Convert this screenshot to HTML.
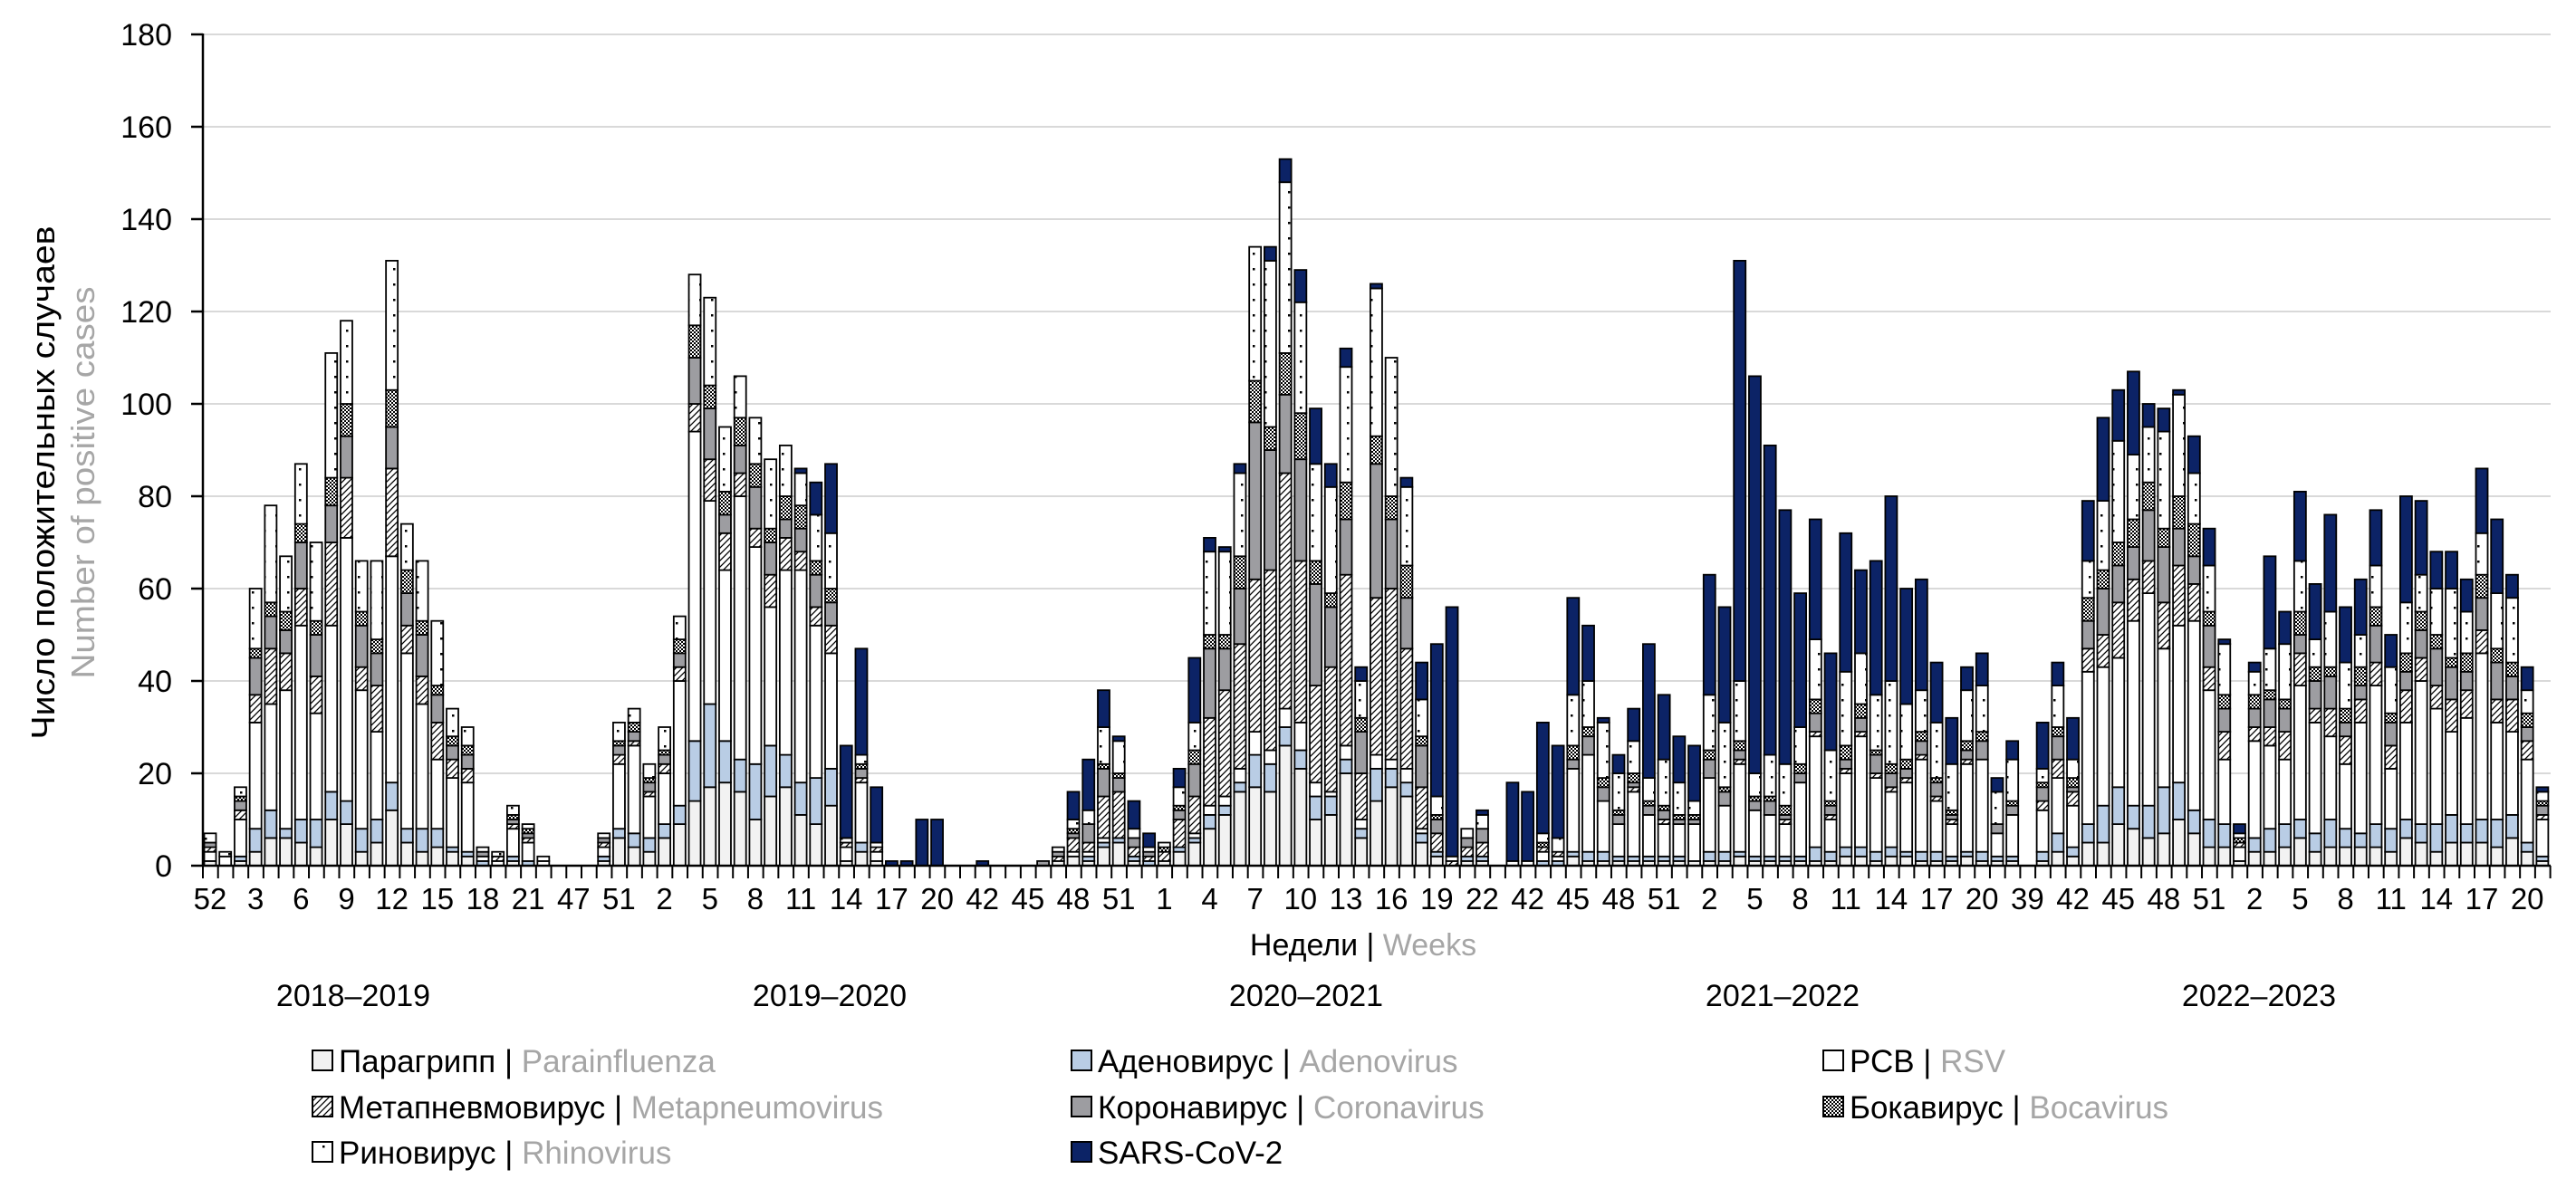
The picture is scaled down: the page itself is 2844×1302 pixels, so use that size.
<!DOCTYPE html>
<html><head><meta charset="utf-8">
<style>
html,body{margin:0;padding:0;background:#fff;}
svg{display:block;}
text{font-family:"Liberation Sans",Arial,sans-serif;}
</style></head>
<body>
<svg id="c" width="2844" height="1302" viewBox="0 0 2844 1302" xmlns="http://www.w3.org/2000/svg">
<defs>
<pattern id="hatch" width="7" height="7" patternUnits="userSpaceOnUse">
<rect width="7" height="7" fill="#fff"/>
<path d="M-1,8 L8,-1 M-2,2 L2,-2 M5,9 L9,5" stroke="#000" stroke-width="1.3"/>
</pattern>
<pattern id="check" width="4" height="4" patternUnits="userSpaceOnUse">
<rect width="4" height="4" fill="#fff"/>
<rect width="2" height="2" fill="#000"/><rect x="2" y="2" width="2" height="2" fill="#000"/>
</pattern>
<pattern id="dots" width="13" height="17" patternUnits="userSpaceOnUse">
<rect width="13" height="17" fill="#fff"/>
<rect x="5" y="7" width="2.5" height="2.5" fill="#000"/>
</pattern>
</defs>
<g id="grid" stroke="#d9d9d9" stroke-width="2">
<line x1="224" y1="854" x2="2816" y2="854"/><line x1="224" y1="752" x2="2816" y2="752"/>
<line x1="224" y1="650" x2="2816" y2="650"/><line x1="224" y1="548" x2="2816" y2="548"/>
<line x1="224" y1="446" x2="2816" y2="446"/><line x1="224" y1="344" x2="2816" y2="344"/>
<line x1="224" y1="242" x2="2816" y2="242"/><line x1="224" y1="140" x2="2816" y2="140"/>
<line x1="224" y1="38" x2="2816" y2="38"/>
</g>
<g id="bars"></g>
<g stroke="#000" stroke-width="2.5">
<line x1="224" y1="37" x2="224" y2="957"/>
<line x1="223" y1="956" x2="2816" y2="956"/>
<line x1="211" y1="956" x2="224" y2="956"/><line x1="211" y1="854" x2="224" y2="854"/>
<line x1="211" y1="752" x2="224" y2="752"/><line x1="211" y1="650" x2="224" y2="650"/>
<line x1="211" y1="548" x2="224" y2="548"/><line x1="211" y1="446" x2="224" y2="446"/>
<line x1="211" y1="344" x2="224" y2="344"/><line x1="211" y1="242" x2="224" y2="242"/>
<line x1="211" y1="140" x2="224" y2="140"/><line x1="211" y1="38" x2="224" y2="38"/>
</g>
<g id="xt" stroke="#000" stroke-width="2"></g>
<g font-size="34" text-anchor="end" fill="#000">
<text x="190" y="968">0</text><text x="190" y="866">20</text><text x="190" y="764">40</text>
<text x="190" y="662">60</text><text x="190" y="560">80</text><text x="190" y="458">100</text>
<text x="190" y="356">120</text><text x="190" y="254">140</text><text x="190" y="152">160</text>
<text x="190" y="50">180</text>
</g>
<g font-size="33" text-anchor="middle" fill="#000">
<text x="232" y="1004">52</text><text x="282.2" y="1004">3</text><text x="332.3" y="1004">6</text><text x="382.5" y="1004">9</text>
<text x="432.6" y="1004">12</text><text x="482.8" y="1004">15</text><text x="533" y="1004">18</text><text x="583.1" y="1004">21</text>
<text x="633.3" y="1004">47</text><text x="683.4" y="1004">51</text><text x="733.6" y="1004">2</text><text x="783.8" y="1004">5</text>
<text x="833.9" y="1004">8</text><text x="884.1" y="1004">11</text><text x="934.2" y="1004">14</text><text x="984.4" y="1004">17</text>
<text x="1034.6" y="1004">20</text><text x="1084.7" y="1004">42</text><text x="1134.9" y="1004">45</text><text x="1185" y="1004">48</text>
<text x="1235.2" y="1004">51</text><text x="1285.4" y="1004">1</text><text x="1335.5" y="1004">4</text><text x="1385.7" y="1004">7</text>
<text x="1435.8" y="1004">10</text><text x="1486" y="1004">13</text><text x="1536.2" y="1004">16</text><text x="1586.3" y="1004">19</text>
<text x="1636.5" y="1004">22</text><text x="1686.6" y="1004">42</text><text x="1736.8" y="1004">45</text><text x="1787" y="1004">48</text>
<text x="1837.1" y="1004">51</text><text x="1887.3" y="1004">2</text><text x="1937.4" y="1004">5</text><text x="1987.6" y="1004">8</text>
<text x="2037.8" y="1004">11</text><text x="2087.9" y="1004">14</text><text x="2138.1" y="1004">17</text><text x="2188.2" y="1004">20</text>
<text x="2238.4" y="1004">39</text><text x="2288.6" y="1004">42</text><text x="2338.7" y="1004">45</text><text x="2388.9" y="1004">48</text>
<text x="2439" y="1004">51</text><text x="2489.2" y="1004">2</text><text x="2539.4" y="1004">5</text><text x="2589.5" y="1004">8</text>
<text x="2639.7" y="1004">11</text><text x="2689.8" y="1004">14</text><text x="2740" y="1004">17</text><text x="2790.2" y="1004">20</text>
</g>
<text x="1505" y="1055" font-size="34" text-anchor="middle" fill="#000">Недели | <tspan fill="#a6a6a6">Weeks</tspan></text>
<g font-size="34" text-anchor="middle" fill="#000">
<text x="390" y="1111">2018–2019</text><text x="916" y="1111">2019–2020</text>
<text x="1442" y="1111">2020–2021</text><text x="1968" y="1111">2021–2022</text>
<text x="2494" y="1111">2022–2023</text>
</g>
<text transform="translate(60,533) rotate(-90)" font-size="36" text-anchor="middle" fill="#000" textLength="567" lengthAdjust="spacingAndGlyphs">Число положительных случаев</text>
<text transform="translate(104,533) rotate(-90)" font-size="36" text-anchor="middle" fill="#a6a6a6" textLength="433" lengthAdjust="spacingAndGlyphs">Number of positive cases</text>
<g stroke="#000" stroke-width="2">
<rect x="345" y="1160" width="22" height="22" fill="#f2f2f2"/>
<rect x="345" y="1211" width="22" height="22" fill="url(#hatch)"/>
<rect x="345" y="1261" width="22" height="22" fill="url(#dots)"/>
<rect x="1183" y="1160" width="22" height="22" fill="#b9cde5"/>
<rect x="1183" y="1211" width="22" height="22" fill="#9d9da1"/>
<rect x="1183" y="1261" width="22" height="22" fill="#0c2366"/>
<rect x="2013" y="1160" width="22" height="22" fill="#fff"/>
<rect x="2013" y="1211" width="22" height="22" fill="url(#check)"/>
</g>
<g font-size="35" fill="#000">
<text x="374" y="1184">Парагрипп | <tspan fill="#a6a6a6">Parainfluenza</tspan></text>
<text x="374" y="1235">Метапневмовирус | <tspan fill="#a6a6a6">Metapneumovirus</tspan></text>
<text x="374" y="1285">Риновирус | <tspan fill="#a6a6a6">Rhinovirus</tspan></text>
<text x="1212" y="1184">Аденовирус | <tspan fill="#a6a6a6">Adenovirus</tspan></text>
<text x="1212" y="1235">Коронавирус | <tspan fill="#a6a6a6">Coronavirus</tspan></text>
<text x="1212" y="1285">SARS-CoV-2</text>
<text x="2042" y="1184">РСВ | <tspan fill="#a6a6a6">RSV</tspan></text>
<text x="2042" y="1235">Бокавирус  | <tspan fill="#a6a6a6">Bocavirus</tspan></text>
</g>
</svg>
<script>
(function(){
var T=[7,3,17,60,78,67,87,70,111,118,66,66,131,74,66,53,34,30,4,3,13,9,2,0,0,0,
7,31,34,22,30,54,128,123,95,106,97,88,91,86,83,87,26,47,17,1,1,10,10,0,0,
1,0,0,0,1,4,16,23,38,28,14,7,5,21,45,71,69,87,134,134,153,129,99,87,112,43,126,110,84,44,48,56,8,12,
0,18,16,31,26,58,52,32,24,34,48,37,28,26,63,56,131,106,91,77,59,75,46,72,64,66,80,60,62,44,32,43,46,19,27,
0,31,44,32,79,97,103,107,100,99,103,93,73,49,9,44,67,55,81,61,76,56,62,77,50,80,79,68,68,62,86,75,63,43,17];
var S={39:1,40:7,41:15,42:20,43:23,44:12,45:1,46:1,47:10,48:10,51:1,57:6,58:11,59:8,60:1,61:6,62:3,64:4,65:14,66:3,67:1,68:2,70:3,71:5,72:7,73:12,74:5,75:4,76:3,77:1,79:2,80:8,81:33,82:54,84:1,86:17,87:15,88:24,89:20,90:21,91:12,92:1,93:4,94:7,95:29,96:14,97:10,98:12,99:26,100:25,101:91,102:86,103:67,104:55,105:29,106:26,107:21,108:30,109:18,110:29,111:40,112:25,113:24,114:13,115:10,116:5,117:7,118:3,119:4,121:10,122:5,123:9,124:13,125:18,126:11,127:18,128:5,129:5,130:1,131:8,132:8,133:1,134:2,135:2,136:20,137:7,138:15,139:12,140:21,141:12,142:12,143:12,144:7,145:23,146:16,147:8,148:8,149:7,150:14,151:16,152:5,153:5,154:1};
var F=[[0.07,0.06,0.40,0.12,0.10,0.05,0.20],
[0.15,0.10,0.45,0.06,0.07,0.05,0.12],
[0.15,0.04,0.03,0.30,0.18,0.06,0.24],
[0.04,0.05,0.42,0.02,0.08,0.05,0.34],
[0.08,0.08,0.40,0.10,0.10,0.06,0.18]];
var fills=["#f2f2f2","#b9cde5","#fff","url(#hatch)","#9d9da1","url(#check)","url(#dots)"];
var ns="http://www.w3.org/2000/svg";
var g=document.getElementById("bars");
var xt=document.getElementById("xt");
var k=5.1, y0=956, pitch=16.72, bw=13;
function rect(x,y,w,h,f){var r=document.createElementNS(ns,"rect");r.setAttribute("x",x);r.setAttribute("y",y);r.setAttribute("width",w);r.setAttribute("height",h);r.setAttribute("fill",f);r.setAttribute("stroke","#000");r.setAttribute("stroke-width","1.8");g.appendChild(r);}
for(var i=0;i<=155;i++){var l=document.createElementNS(ns,"line");var xx=224+i*pitch;l.setAttribute("x1",xx);l.setAttribute("x2",xx);l.setAttribute("y1",956);l.setAttribute("y2",970);xt.appendChild(l);}
for(var c=0;c<T.length;c++){
 var t=T[c]; if(!t) continue;
 var s=S[c]||0; var rest=t-s;
 var season=c<26?0:c<51?1:c<85?2:c<120?3:4;
 var fr=F[season];
 var x=232+c*pitch-bw/2;
 var tot=0,ws=[],j;
 for(j=0;j<7;j++){var w=fr[j]*(1+0.3*Math.sin(c*1.7+j*2.3));ws.push(w);tot+=w;}
 var acc=0;
 for(j=0;j<7;j++){
  var a=Math.round(acc/tot*rest); acc+=ws[j]; var b=Math.round(acc/tot*rest);
  if(b>a) rect(x,y0-b*k,bw,(b-a)*k,fills[j]);
 }
 if(s>0) rect(x,y0-t*k,bw,s*k,"#0c2366");
}
})();
</script>
</body></html>
